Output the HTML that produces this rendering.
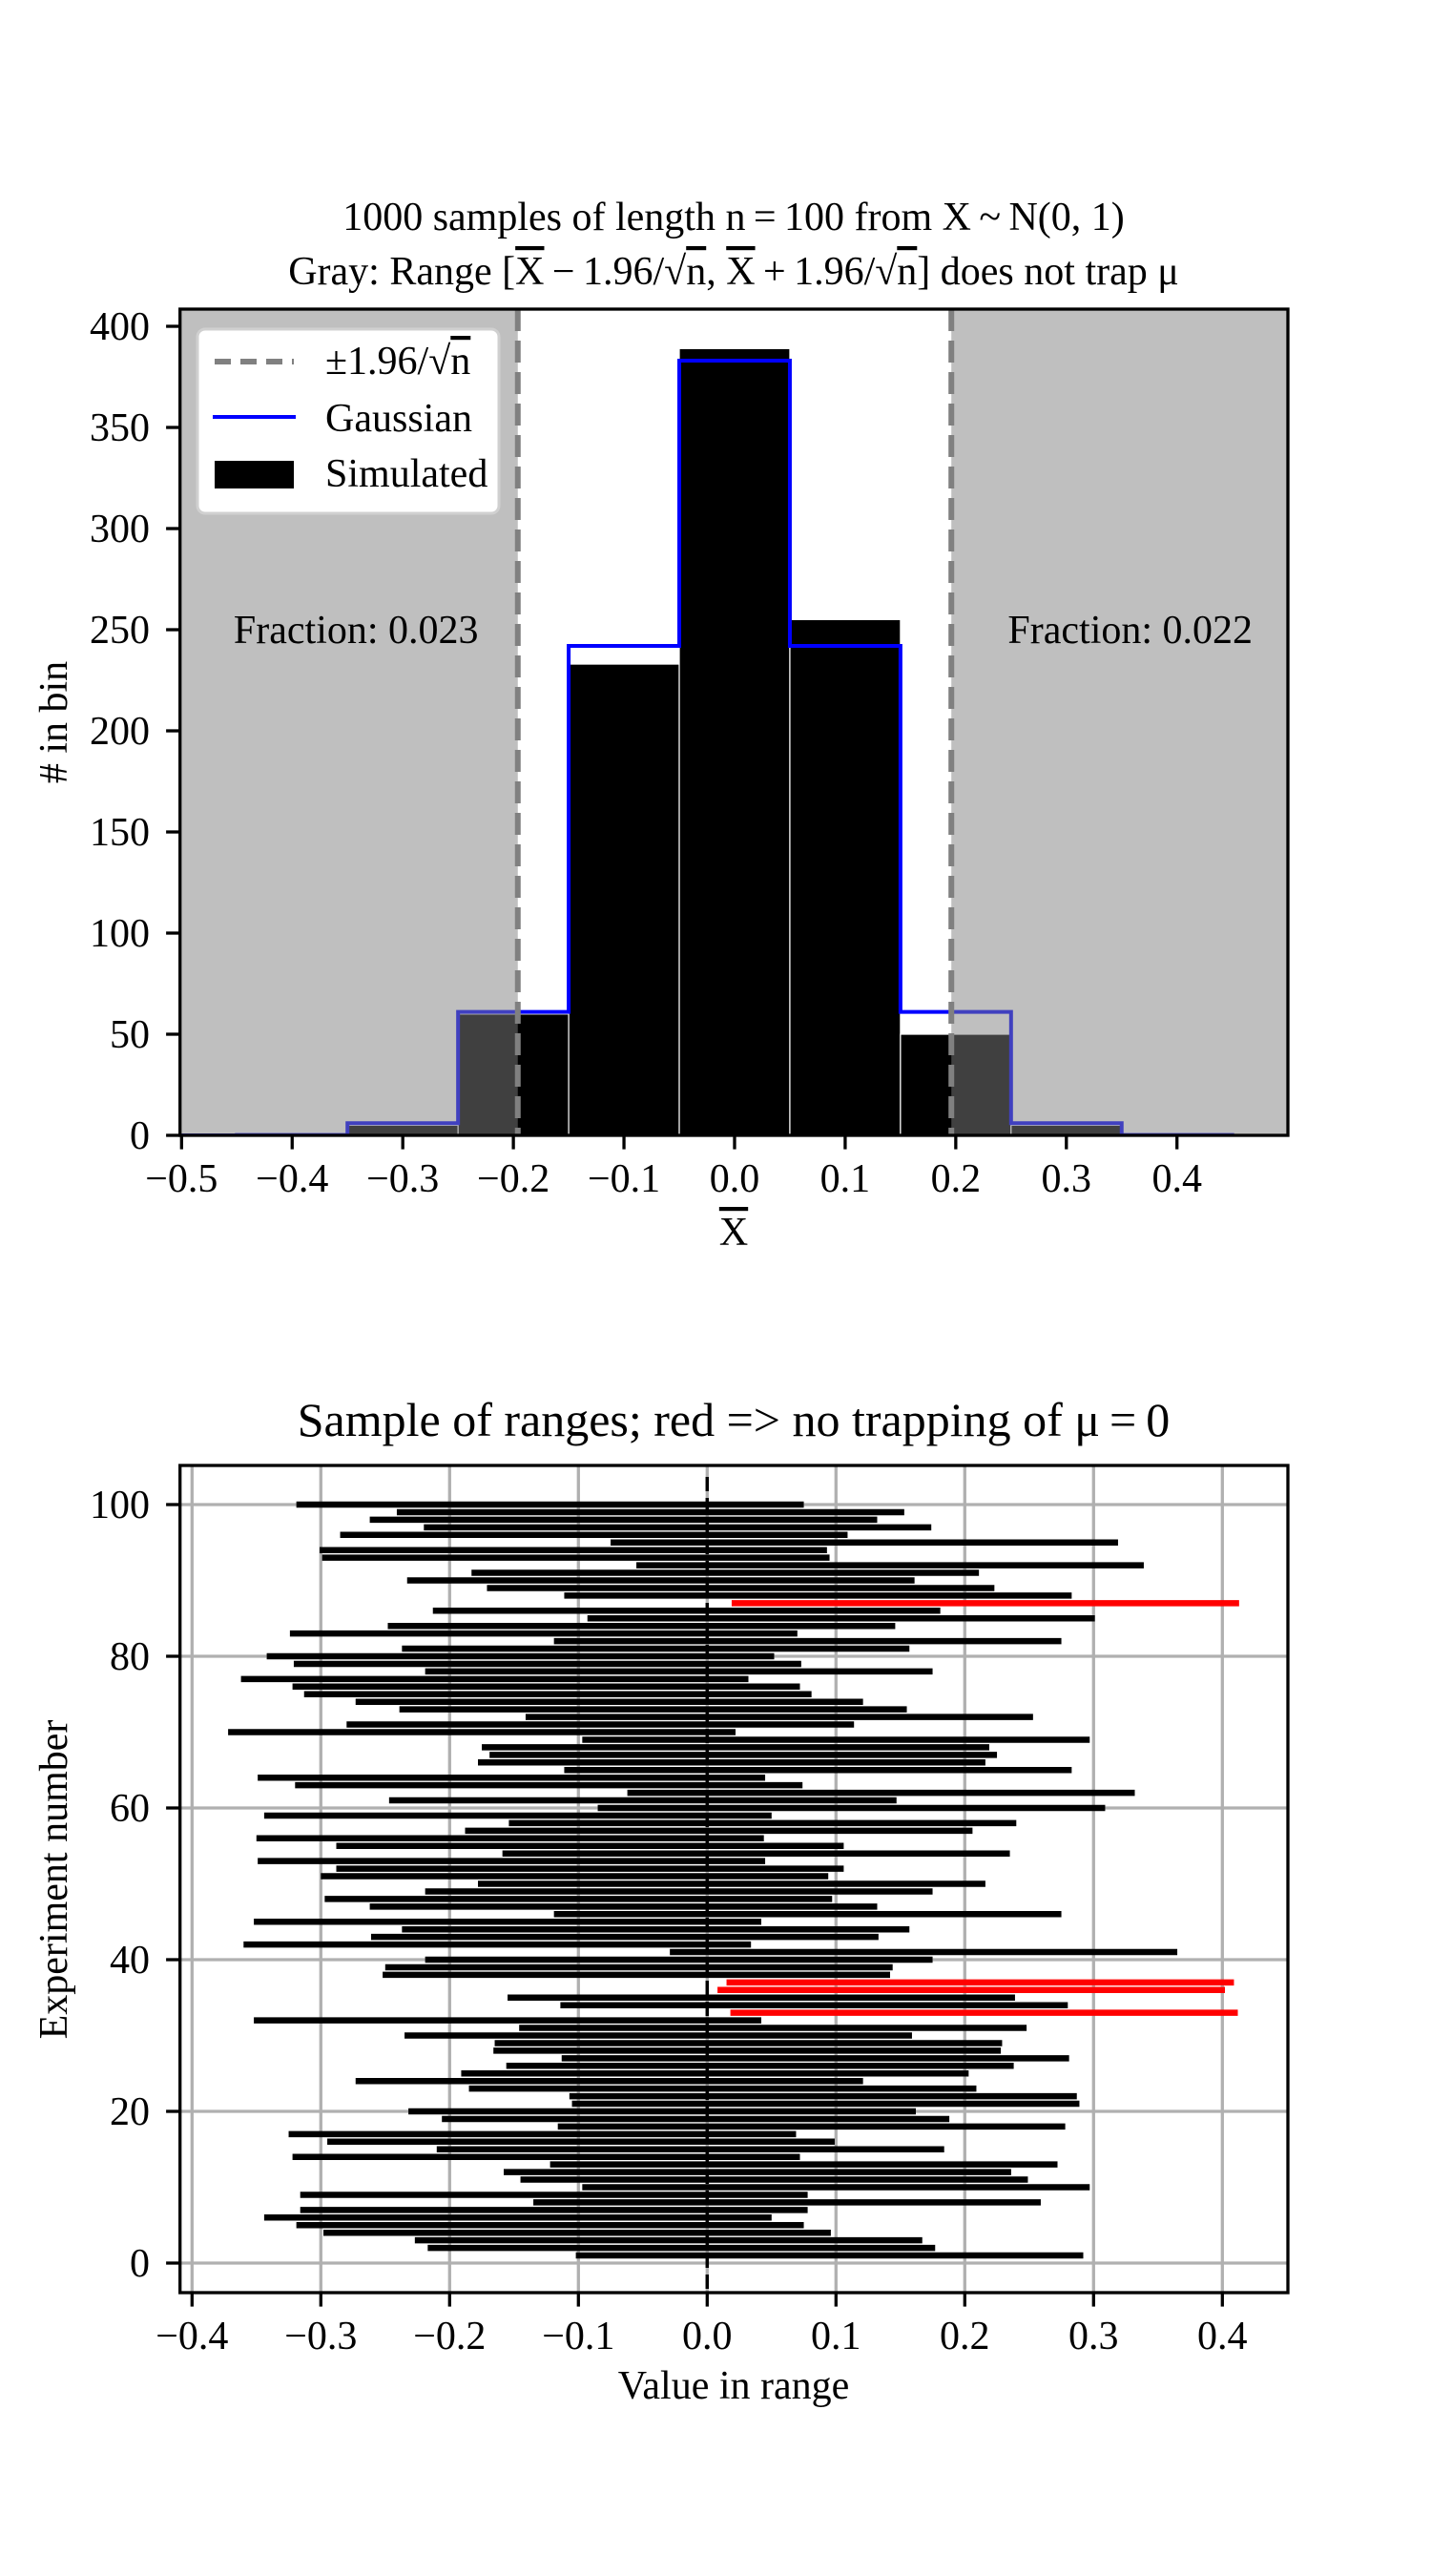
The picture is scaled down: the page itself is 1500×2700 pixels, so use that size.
<!DOCTYPE html>
<html><head><meta charset="utf-8"><style>
html,body{margin:0;padding:0;background:#fff}
svg{display:block;font-family:"Liberation Serif",serif}
</style></head><body>
<svg id="fig" width="1500" height="2700" viewBox="0 0 1500 2700" xmlns="http://www.w3.org/2000/svg">
<defs>
<clipPath id="c1"><rect x="188.7" y="324" width="1161.3" height="866"/></clipPath>
<clipPath id="c2"><rect x="188.7" y="1536" width="1161.3" height="867"/></clipPath>
</defs>
<g id="top"></g>
<g id="bot"></g>
</svg>
<script>
// ---- top histogram data ----
const binCenters = [-0.5,-0.4,-0.3,-0.2,-0.1,0.0,0.1,0.2,0.3,0.4];
const simCounts  = [0,0,5,60,233,389,255,50,5,0];
const gaussCounts= [0,0.2,6,61,242,383,242,61,6,0.2];
const histXTicks = [-0.5,-0.4,-0.3,-0.2,-0.1,0.0,0.1,0.2,0.3,0.4];
const histYTicks = [0,50,100,150,200,250,300,350,400];
const fractionLabels = ["Fraction: 0.023","Fraction: 0.022"];
const critValue = 0.196;
// ---- bottom ranges data (experiments 1..100, sample means) ----
const experimentMeans = [
0.095,-0.020,-0.030,-0.101,-0.122,-0.147,-0.119,0.062,-0.119,0.100,
0.052,0.039,0.075,-0.125,-0.013,-0.098,-0.128,0.081,-0.009,-0.035,
0.092,0.090,0.012,-0.076,0.006,0.041,0.084,0.031,0.032,-0.038,
0.051,-0.155,0.215,0.083,0.042,0.205,0.212,-0.055,-0.053,-0.022,
0.168,-0.163,-0.064,-0.040,-0.155,0.078,-0.065,-0.100,-0.022,0.019,
-0.103,-0.091,-0.152,0.038,-0.091,-0.153,0.009,0.043,-0.147,0.112,
-0.050,0.135,-0.123,-0.152,0.086,0.019,0.028,0.022,0.100,-0.175,
-0.083,0.056,-0.042,-0.076,-0.116,-0.125,-0.165,-0.022,-0.124,-0.145,
-0.040,0.078,-0.127,-0.051,0.104,-0.016,0.216,0.086,0.026,-0.036,
0.014,0.142,-0.102,-0.104,0.122,-0.088,-0.023,-0.065,-0.044,-0.122];
const halfWidth = 0.197;
const rangeXTicks = [-0.4,-0.3,-0.2,-0.1,0.0,0.1,0.2,0.3,0.4];
const rangeYTicks = [0,20,40,60,80,100];

const NS="http://www.w3.org/2000/svg";
function mk(parent,tag,attrs,text){const e=document.createElementNS(NS,tag);for(const k in attrs)e.setAttribute(k,attrs[k]);if(text!==undefined)e.textContent=text;parent.appendChild(e);return e;}

// ===== TOP =====
const T=document.getElementById('top');
const L1=188.7,R1=1350,TOP1=324,B1=1190;
const x1=v=>L1+(v+0.5014)/(1.0017)*(R1-L1);
const y1=v=>B1-v*(B1-TOP1)/408.5;
mk(T,'rect',{x:L1,y:TOP1,width:R1-L1,height:B1-TOP1,fill:'#fff'});
const gBars=mk(T,'g',{'clip-path':'url(#c1)'});
binCenters.forEach((c,i)=>{
  if(simCounts[i]<=0)return;
  const r=mk(gBars,'rect',{x:x1(c-0.05),y:y1(simCounts[i]),width:x1(c+0.05)-x1(c-0.05),height:y1(0)-y1(simCounts[i]),fill:'#000',stroke:'#fff','stroke-width':1.2});
  
  
});
let d='M'+x1(binCenters[0]-0.05)+','+y1(0);
binCenters.forEach((c,i)=>{d+=' L'+x1(c-0.05)+','+y1(gaussCounts[i])+' L'+x1(c+0.05)+','+y1(gaussCounts[i]);});
d+=' L'+x1(binCenters[binCenters.length-1]+0.05)+','+y1(0);
const gl=mk(gBars,'path',{d:d,fill:'none',stroke:'#0000ff','stroke-width':4});


const s1=mk(gBars,'rect',{x:L1,y:TOP1,width:x1(-critValue)-L1,height:B1-TOP1,fill:'#808080','fill-opacity':0.5});


const s2=mk(gBars,'rect',{x:x1(critValue),y:TOP1,width:R1-x1(critValue),height:B1-TOP1,fill:'#808080','fill-opacity':0.5});


[-critValue,critValue].forEach(v=>{
  const l=mk(gBars,'line',{x1:x1(v),x2:x1(v),y1:TOP1,y2:B1,stroke:'#808080','stroke-width':6,'stroke-dasharray':'23,10'});
  
  
});
[-0.35,0.35].forEach((v,i)=>{
  const t=mk(T,'text',{x:x1(v)+9,y:y1(250)+14,'font-size':42,'text-anchor':'middle'},fractionLabels[i]);
  
  
});
mk(T,'rect',{x:L1,y:TOP1,width:R1-L1,height:B1-TOP1,fill:'none',stroke:'#000','stroke-width':3.3});
histXTicks.forEach(v=>{
  mk(T,'line',{x1:x1(v),x2:x1(v),y1:B1,y2:B1+14.6,stroke:'#000','stroke-width':3.3});
  const t=mk(T,'text',{x:x1(v),y:1249,'font-size':42,'text-anchor':'middle'},(v<0?'\u2212':'')+Math.abs(v).toFixed(1));
  
  
});
histYTicks.forEach(v=>{
  mk(T,'line',{x1:L1-14.6,x2:L1,y1:y1(v),y2:y1(v),stroke:'#000','stroke-width':3.3});
  const t=mk(T,'text',{x:157,y:y1(v)+14,'font-size':42,'text-anchor':'end'},String(v));
  
  
});
// legend
const lg=mk(T,'g',{});


mk(lg,'rect',{x:207,y:345,width:316,height:193,rx:8,fill:'#fff','fill-opacity':1,stroke:'#d0d0d0','stroke-width':3});
mk(lg,'line',{x1:225,x2:308,y1:379,y2:379,stroke:'#808080','stroke-width':6,'stroke-dasharray':'17,10'});
mk(lg,'line',{x1:223,x2:310,y1:437,y2:437,stroke:'#0000ff','stroke-width':4});
mk(lg,'rect',{x:225,y:483,width:83,height:29,fill:'#000'});
const lt1=mk(lg,'text',{x:341,y:392,'font-size':42});
lt1.innerHTML='±1.96/√<tspan style="text-decoration:overline">n</tspan>';
mk(lg,'text',{x:341,y:452,'font-size':42},'Gaussian');
mk(lg,'text',{x:341,y:510,'font-size':42},'Simulated');
// titles
const tt1=mk(T,'text',{x:769,y:241,'font-size':42,'text-anchor':'middle'},'1000 samples of length n\u2009=\u2009100 from X\u2009~\u2009N(0, 1)');


const tt2=mk(T,'text',{x:769,y:298,'font-size':42,'text-anchor':'middle'});


tt2.innerHTML='Gray: Range [<tspan style="text-decoration:overline">X</tspan>\u2009\u2212\u20091.96/√<tspan style="text-decoration:overline">n</tspan>, <tspan style="text-decoration:overline">X</tspan>\u2009+\u20091.96/√<tspan style="text-decoration:overline">n</tspan>] does not trap μ';
const xl=mk(T,'text',{x:769,y:1305,'font-size':42,'text-anchor':'middle'});
xl.innerHTML='<tspan style="text-decoration:overline">X</tspan>';


const yl=mk(T,'text',{x:0,y:0,'font-size':42,'text-anchor':'middle',transform:'translate(70,757) rotate(-90)'},'# in bin');



// ===== BOTTOM =====
const Bg=document.getElementById('bot');
const L2=188.7,R2=1350,TOP2=1536,B2=2403;
const x2=v=>741.3+v*1350;
const y2=v=>2372-v*7.95;
rangeXTicks.forEach(v=>{mk(Bg,'line',{x1:x2(v),x2:x2(v),y1:TOP2,y2:B2,stroke:'#b0b0b0','stroke-width':3.3});});
rangeYTicks.forEach(v=>{mk(Bg,'line',{x1:L2,x2:R2,y1:y2(v),y2:y2(v),stroke:'#b0b0b0','stroke-width':3.3});});
const gR=mk(Bg,'g',{'clip-path':'url(#c2)'});
experimentMeans.forEach((m,i)=>{
  const lo=m-halfWidth,hi=m+halfWidth;
  const miss=(lo>0||hi<0);
  const l=mk(gR,'line',{x1:x2(lo),x2:x2(hi),y1:y2(i+1),y2:y2(i+1),stroke:miss?'#ff0000':'#000','stroke-width':6.5});
  
  
});
const zl=mk(gR,'line',{x1:x2(0),x2:x2(0),y1:TOP2+12,y2:B2,stroke:'#000','stroke-width':3.5,'stroke-dasharray':'15,7'});


mk(Bg,'rect',{x:L2,y:TOP2,width:R2-L2,height:B2-TOP2,fill:'none',stroke:'#000','stroke-width':3.3});
rangeXTicks.forEach(v=>{
  mk(Bg,'line',{x1:x2(v),x2:x2(v),y1:B2,y2:B2+14.6,stroke:'#000','stroke-width':3.3});
  const t=mk(Bg,'text',{x:x2(v),y:2462,'font-size':42,'text-anchor':'middle'},(v<0?'\u2212':'')+Math.abs(v).toFixed(1));
  
  
});
rangeYTicks.forEach(v=>{
  mk(Bg,'line',{x1:L2-14.6,x2:L2,y1:y2(v),y2:y2(v),stroke:'#000','stroke-width':3.3});
  const t=mk(Bg,'text',{x:157,y:y2(v)+14,'font-size':42,'text-anchor':'end'},String(v));
  
  
});
const bt=mk(Bg,'text',{x:769,y:1505,'font-size':50,'text-anchor':'middle'},'Sample of ranges; red => no trapping of μ\u2009=\u20090');


const bxl=mk(Bg,'text',{x:769,y:2514,'font-size':42,'text-anchor':'middle'},'Value in range');


const byl=mk(Bg,'text',{x:0,y:0,'font-size':42,'text-anchor':'middle',transform:'translate(70,1970) rotate(-90)'},'Experiment number');


</script>
</body></html>
